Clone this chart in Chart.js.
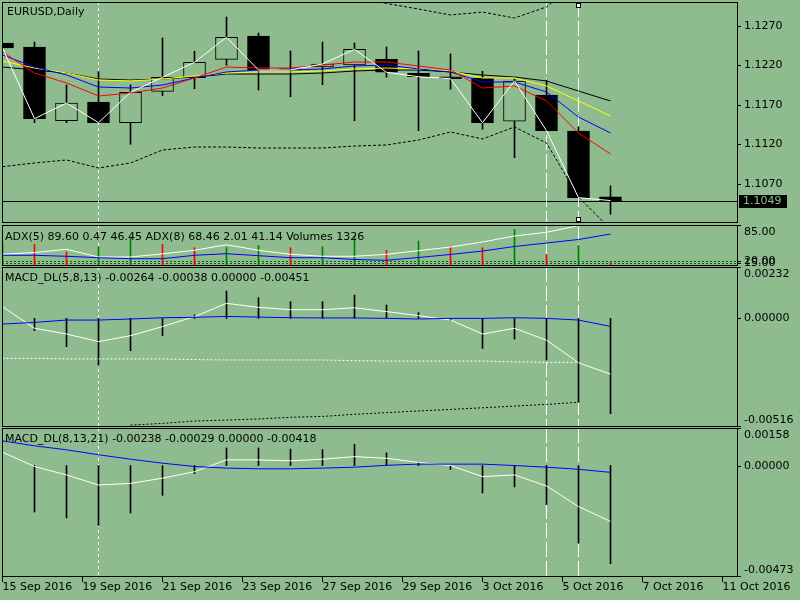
<!DOCTYPE html>
<html>
<head>
<meta charset="utf-8">
<script src="https://cdn.jsdelivr.net/npm/chart.js@4.4.1/dist/chart.umd.min.js"></script>
<style>
  html, body { margin: 0; padding: 0; background: #8fbc8f; }
  body { width: 800px; height: 600px; position: relative; overflow: hidden; }
  .pane { position: absolute; left: 0; width: 800px; }
</style>
</head>
<body>
<div class="pane" style="top:2px;height:221px"><canvas id="cMain"></canvas></div>
<div class="pane" style="top:225px;height:41px"><canvas id="cAdx"></canvas></div>
<div class="pane" style="top:267px;height:160px"><canvas id="cMacd1"></canvas></div>
<div class="pane" style="top:428px;height:172px"><canvas id="cMacd2"></canvas></div>
<script>
// bars (index on the time axis) and the date tick labels
const bars = [0,1,2,3,4,5,6,7,8,9,10,11,12,13,14,15,16,17,18,19];
const xTicks = [0, 2.5, 5, 7.5, 10, 12.5, 15, 17.5, 20, 22.5];
const dateLabels = ['15 Sep 2016','19 Sep 2016','21 Sep 2016','23 Sep 2016','27 Sep 2016',
                    '29 Sep 2016','3 Oct 2016','5 Oct 2016','7 Oct 2016','11 Oct 2016'];

// EURUSD daily candles
const opens  = [1.12485,1.12434,1.11501,1.11738,1.11476,1.11873,1.12046,1.12278,1.12573,1.12162,
                1.12181,1.12206,1.12278,1.12101,1.12058,1.12038,1.11494,1.11827,1.11371,1.10536];
const highs  = [1.12485,1.12497,1.11953,1.12122,1.11953,1.12548,1.12380,1.12814,1.12611,1.12384,
                1.12497,1.12485,1.12434,1.12384,1.12346,1.12127,1.12029,1.12016,1.11425,1.10675];
const lows   = [1.12422,1.11476,1.11476,1.11476,1.11203,1.11818,1.11906,1.12203,1.11890,1.11805,
                1.11957,1.11501,1.12051,1.11375,1.11899,1.11392,1.11033,1.11375,1.10527,1.10317];
const closes = [1.12422,1.11527,1.11725,1.11476,1.11861,1.12051,1.12241,1.12557,1.12143,1.12143,
                1.12219,1.12405,1.12114,1.12058,1.12033,1.11476,1.12004,1.11375,1.10527,1.10490];

// moving averages and bands on the price pane
const maRed    = [1.12371,1.12105,1.11979,1.11814,1.11852,1.11915,1.12042,1.12181,1.12168,1.12168,
                  1.12206,1.12244,1.12244,1.12194,1.12143,1.11915,1.11941,1.11751,1.11346,1.11080];
const maBlue   = [1.12333,1.12181,1.12080,1.11928,1.11915,1.11953,1.12042,1.12118,1.12143,1.12143,
                  1.12156,1.12194,1.12206,1.12156,1.12118,1.11991,1.11991,1.11865,1.11548,1.11346];
const maYellow = [1.12257,1.12168,1.12105,1.12016,1.12004,1.12029,1.12067,1.12105,1.12118,1.12118,
                  1.12130,1.12156,1.12168,1.12156,1.12130,1.12042,1.12042,1.11941,1.11751,1.11561];
const maBlack  = [1.12181,1.12143,1.12105,1.12029,1.12016,1.12029,1.12054,1.12092,1.12092,1.12092,
                  1.12105,1.12130,1.12143,1.12143,1.12118,1.12080,1.12054,1.12004,1.11877,1.11751];
const bandUp   = [1.13789,1.13599,1.13472,1.13409,1.13346,1.13219,1.13181,1.13156,1.13130,1.13092,
                  1.13067,1.13060,1.12985,1.12915,1.12839,1.12877,1.12801,1.12941,1.13282,1.13472];
const bandDown = [1.10919,1.10966,1.11004,1.10903,1.10966,1.11130,1.11168,1.11168,1.11156,1.11156,
                  1.11156,1.11181,1.11194,1.11257,1.11358,1.11270,1.11422,1.11219,1.10535,1.10130];
const priceTicks = [1.1270, 1.1220, 1.1170, 1.1120, 1.1070];
const lastPrice = 1.1049;

// ADX + volumes pane
const adxWhite = [31.6,34.9,40.7,26.7,26.7,32.4,38.9,49.1,38.9,31.6,28.0,28.0,31.6,38.2,44.9,54.0,65.0,71.7,84.0,89.6];
const adxBlue  = [29.8,29.8,28.0,25.4,23.6,23.6,29.8,32.7,29.1,25.4,25.4,22.2,20.7,25.8,31.3,37.6,45.8,52.2,58.6,68.5];
const volumes  = [9000,8640,5600,7720,11320,8640,7320,7400,8240,7320,7720,12000,6240,10000,7720,7320,14640,4640,8240,1326];
const adxLevels = [20, 15];

// MACD_DL(5,8,13)
const m1Hist  = [null,-0.00058,-0.00134,-0.00221,-0.00153,-0.00082,0.00016,0.00129,0.00098,0.00079,
                 0.00079,0.00110,0.00063,0.00027,-0.00011,-0.00142,-0.00098,-0.00197,-0.00397,-0.00451];
const m1Main  = [0.00055,-0.00047,-0.00074,-0.00110,-0.00082,-0.00039,0.00008,0.00071,0.00052,0.00041,
                 0.00041,0.00050,0.00032,0.00013,-0.00008,-0.00074,-0.00047,-0.00103,-0.00210,-0.00264];
const m1Sig   = [-0.00027,-0.00019,-0.00008,-0.00008,-0.00003,0.00003,0.00005,0.00009,0.00006,0.00003,
                 0.00002,0.00002,0.00000,-0.00003,0.00000,0.00000,0.00003,0.00000,-0.00008,-0.00038];
const m1DotW  = [-0.00189,-0.00189,-0.00192,-0.00192,-0.00192,-0.00192,-0.00195,-0.00197,-0.00197,-0.00197,
                 -0.00197,-0.00200,-0.00202,-0.00202,-0.00202,-0.00202,-0.00206,-0.00208,-0.00208,null];
const m1DotB  = [null,null,null,null,-0.00505,-0.00497,-0.00486,-0.00481,-0.00476,-0.00468,
                 -0.00464,-0.00454,-0.00446,-0.00438,-0.00431,-0.00423,-0.00415,-0.00407,-0.00397,null];

// MACD_DL(8,13,21)
const m2Hist  = [null,-0.00198,-0.00223,-0.00255,-0.00202,-0.00127,-0.00034,0.00075,0.00075,0.00070,
                 0.00068,0.00090,0.00054,0.00013,-0.00017,-0.00117,-0.00091,-0.00166,-0.00331,-0.00418];
const m2Main  = [0.00057,-0.00004,-0.00040,-0.00083,-0.00076,-0.00054,-0.00026,0.00024,0.00024,0.00020,
                 0.00027,0.00038,0.00031,0.00013,0.00000,-0.00047,-0.00040,-0.00087,-0.00175,-0.00238];
const m2Sig   = [0.00105,0.00084,0.00067,0.00046,0.00027,0.00010,-0.00004,-0.00011,-0.00014,-0.00014,
                 -0.00011,-0.00007,0.00001,0.00006,0.00006,0.00006,0.00000,-0.00007,-0.00016,-0.00029];

const BG = '#8fbc8f';
const FONT = '11px "DejaVu Sans"';
const X_MIN = -0.5 / 32, X_MAX = 735.5 / 32;   // 32px per bar

// separator (week) and the two drawn vertical lines, in bar index
const sepLines = [3];
const userLines = [17, 18];

// borders, labels, vertical lines
const paneDeco = {
  id: 'paneDeco',
  beforeDatasetsDraw(chart, args, o) {
    const { ctx, chartArea: a, scales } = chart;
    ctx.save();
    ctx.beginPath();
    ctx.rect(a.left, a.top, a.right - a.left, a.bottom - a.top);
    ctx.clip();
    ctx.lineWidth = 1;
    (o.levels || []).forEach(v => {
      const y = Math.round(scales.y.getPixelForValue(v)) + 0.5;
      ctx.strokeStyle = '#006400';
      ctx.setLineDash([2, 2]);
      ctx.beginPath(); ctx.moveTo(a.left, y); ctx.lineTo(a.right, y); ctx.stroke();
    });
    if (o.lastPrice) {
      const y = Math.round(scales.y.getPixelForValue(o.lastPrice)) + 0.5;
      ctx.strokeStyle = '#000';
      ctx.setLineDash([]);
      ctx.beginPath(); ctx.moveTo(a.left, y); ctx.lineTo(a.right, y); ctx.stroke();
    }
    ctx.strokeStyle = '#fff';
    sepLines.forEach(i => {
      const x = Math.round(scales.x.getPixelForValue(i)) - 0.5;
      ctx.setLineDash([3, 3]);
      ctx.beginPath(); ctx.moveTo(x, a.top); ctx.lineTo(x, a.bottom); ctx.stroke();
    });
    userLines.forEach(i => {
      const x = Math.round(scales.x.getPixelForValue(i)) - 0.5;
      ctx.setLineDash([15, 4]);
      ctx.beginPath(); ctx.moveTo(x, a.top); ctx.lineTo(x, a.bottom); ctx.stroke();
    });
    ctx.restore();
  },
  afterDraw(chart, args, o) {
    const { ctx, chartArea: a, scales } = chart;
    ctx.save();
    ctx.strokeStyle = '#000';
    ctx.lineWidth = 1;
    ctx.setLineDash([]);
    ctx.strokeRect(a.left + 0.5, a.top + 0.5, a.right - a.left - 1, a.bottom - a.top - 1);
    ctx.font = FONT;
    ctx.fillStyle = '#000';
    ctx.textBaseline = 'middle';
    ctx.textAlign = 'left';
    if (o.title) ctx.fillText(o.title, a.left + o.titleX, a.top + o.titleY);
    (o.yLabels || []).forEach(l => {
      let ty, cy;
      if (l.at === 'top') { ty = a.top; cy = a.top + 7.5; }
      else if (l.at === 'bottom') { ty = a.bottom - 1; cy = a.bottom - 7; }
      else { ty = Math.round(scales.y.getPixelForValue(l.v)); cy = ty + 0.5; }
      ctx.beginPath(); ctx.moveTo(a.right - 1, ty + 0.5); ctx.lineTo(a.right + 3, ty + 0.5); ctx.stroke();
      ctx.fillText(l.t, a.right + 6, cy);
    });
    if (o.lastPrice) {
      const y = Math.round(scales.y.getPixelForValue(o.lastPrice));
      ctx.fillStyle = '#000';
      ctx.fillRect(a.right + 1, y - 6, 48, 13);
      ctx.fillStyle = BG;
      ctx.fillText(o.lastPrice.toFixed(4), a.right + 5, y + 0.5);
    }
    if (o.markers) {
      const x = Math.round(scales.x.getPixelForValue(o.markers));
      [a.top + 3, a.bottom - 4].forEach(y => {
        ctx.fillStyle = '#fff';
        ctx.fillRect(x - 3, y - 2, 5, 5);
        ctx.strokeStyle = '#000';
        ctx.strokeRect(x - 2.5, y - 1.5, 4, 4);
      });
    }
    ctx.restore();
  }
};

function line(data, color, order, dash, axis) {
  return {
    type: 'line', data, borderColor: color, borderWidth: 1, borderDash: dash || [],
    pointRadius: 0, tension: 0, order, yAxisID: axis || 'y', spanGaps: false
  };
}
function sticks(data, color, order, axis) {
  return {
    type: 'bar', data, backgroundColor: color, borderWidth: 0, barThickness: 1,
    grouped: false, order, yAxisID: axis || 'y'
  };
}

function baseOptions(ymin, ymax, deco, showX) {
  return {
    animation: false,
    responsive: true,
    maintainAspectRatio: false,
    events: [],
    layout: { padding: { left: 2, right: 62, top: 0, bottom: 0 } },
    plugins: { legend: { display: false }, tooltip: { enabled: false }, paneDeco: deco },
    scales: {
      x: {
        type: 'linear', min: X_MIN, max: X_MAX, offset: false, display: !!showX,
        afterBuildTicks: s => { s.ticks = xTicks.map(v => ({ value: v })); },
        afterFit: s => {
          if (!showX) return;
          s.height = 23; s.paddingLeft = 0; s.paddingRight = 0;
        },
        grid: { display: true, drawOnChartArea: false, drawTicks: true, tickLength: 5, color: '#000', offset: false },
        border: { display: false },
        ticks: {
          autoSkip: false, maxRotation: 0, minRotation: 0, align: 'start', padding: -1,
          color: '#000', font: { family: 'DejaVu Sans', size: 11 },
          callback: (v, i) => dateLabels[i]
        }
      },
      y: { display: false, min: ymin, max: ymax }
    }
  };
}

// price pane
const mainOpts = baseOptions(1.102063, 1.130038, {
  title: 'EURUSD,Daily', titleX: 5, titleY: 10,
  yLabels: priceTicks.map(v => ({ v, t: v.toFixed(4) })),
  lastPrice, markers: userLines[1]
});
new Chart(document.getElementById('cMain'), {
  type: 'line',
  data: {
    labels: bars,
    datasets: [
      sticks(lows.map((l, i) => [l, highs[i]]), '#000', 20),
      {
        type: 'bar', data: opens.map((o, i) => [o, closes[i]]),
        backgroundColor: opens.map((o, i) => closes[i] >= o ? BG : '#000'),
        borderColor: '#000', borderWidth: 1, borderSkipped: false,
        barThickness: 22, grouped: false, order: 19
      },
      line(bandUp, '#000', 8, [3, 2]),
      line(bandDown, '#000', 8, [3, 2]),
      line(maBlack, '#000', 6),
      line(maYellow, '#ffff00', 5),
      line(maBlue, '#0000ff', 4),
      line(maRed, '#ff0000', 3),
      line(closes, '#ffffff', 2)
    ]
  },
  options: mainOpts,
  plugins: [paneDeco]
});

// ADX / volumes pane
const adxOpts = baseOptions(10.3, 85, {
  title: 'ADX(5) 89.60 0.47 46.45 ADX(8) 68.46 2.01 41.14 Volumes 1326', titleX: 3, titleY: 12,
  yLabels: [{ at: 'top', t: '85.00' }].concat(adxLevels.map(v => ({ v, t: v.toFixed(2) }))),
  levels: adxLevels
});
adxOpts.scales.yv = { display: false, min: 0, max: 16400 };
new Chart(document.getElementById('cAdx'), {
  type: 'line',
  data: {
    labels: bars,
    datasets: [
      sticks(volumes, volumes.map((v, i) => i > 0 && v < volumes[i - 1] ? '#ff0000' : '#008000'), 10, 'yv'),
      line(adxWhite, '#ffffff', 3),
      line(adxBlue, '#0000ff', 2)
    ]
  },
  options: adxOpts,
  plugins: [paneDeco]
});

// MACD panes
function macdChart(id, ymin, ymax, title, ticks, hist, main, sig, dotW, dotB, showX) {
  const ds = [
    sticks(hist, '#000', 10),
    line(main, '#ffffff', 3),
    line(sig, '#0000ff', 2)
  ];
  if (dotW) ds.push(line(dotW, '#ffffff', 4, [2, 2]));
  if (dotB) ds.push(line(dotB, '#000', 4, [2, 2]));
  new Chart(document.getElementById(id), {
    type: 'line',
    data: { labels: bars, datasets: ds },
    options: baseOptions(ymin, ymax, {
      title, titleX: 3, titleY: 11,
      yLabels: [{ at: 'top', t: ticks[0] }, { v: 0, t: ticks[1] }, { at: 'bottom', t: ticks[2] }]
    }, showX),
    plugins: [paneDeco]
  });
}
macdChart('cMacd1', -0.00514, 0.00243, 'MACD_DL(5,8,13) -0.00264 -0.00038 0.00000 -0.00451',
          ['0.00232', '0.00000', '-0.00516'], m1Hist, m1Main, m1Sig, m1DotW, m1DotB, false);
macdChart('cMacd2', -0.00475, 0.00160, 'MACD_DL(8,13,21) -0.00238 -0.00029 0.00000 -0.00418',
          ['0.00158', '0.00000', '-0.00473'], m2Hist, m2Main, m2Sig, null, null, true);
</script>
</body>
</html>
